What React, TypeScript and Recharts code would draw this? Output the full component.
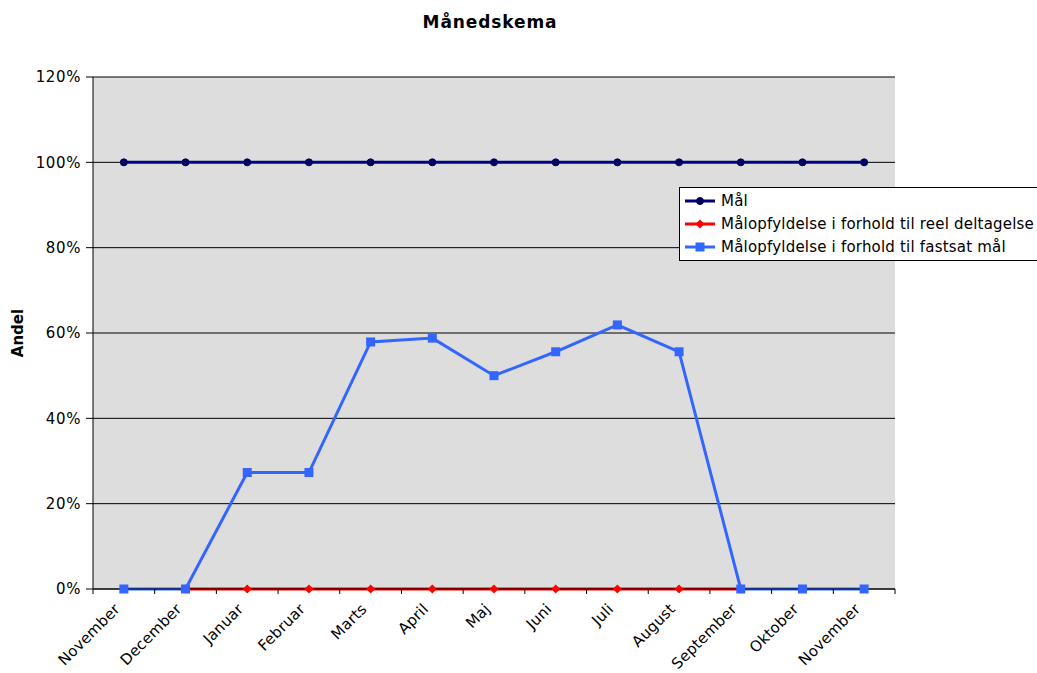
import React from "react";
import { LineChart, Line, XAxis, YAxis, CartesianGrid, Legend, Label } from "recharts";

const months = [
  "November", "December", "Januar", "Februar", "Marts", "April", "Maj",
  "Juni", "Juli", "August", "September", "Oktober", "November",
];
const maal = [100, 100, 100, 100, 100, 100, 100, 100, 100, 100, 100, 100, 100];
const reelDeltagelse = [null, 0, 0, 0, 0, 0, 0, 0, 0, 0, 0, null, null];
const fastsatMaal = [0, 0, 27.3, 27.3, 57.9, 58.8, 50, 55.6, 61.9, 55.6, 0, 0, 0];
const yTicks = [0, 20, 40, 60, 80, 100, 120];
const seriesOrder = ["maal", "reel", "fastsat"];

const data = months.map((month, i) => ({
  month,
  maal: maal[i],
  reel: reelDeltagelse[i],
  fastsat: fastsatMaal[i],
}));

const FONT = "'DejaVu Sans', Verdana, sans-serif";
const W = 1037;
const H = 673;
const margin = { top: 77, right: 142, bottom: 0, left: 0 };
const yAxisWidth = 93;
const plotW = W - margin.left - margin.right - yAxisWidth;
const halfBand = plotW / months.length / 2;

const NAVY = "#000080";
const RED = "#ff0000";
const BLUE = "#3366ff";

const CircleDot = (p: any) =>
  p.cx == null || p.cy == null ? null : (
    <circle cx={p.cx} cy={p.cy} r={3.5} fill="#00005e" stroke="#00005e" />
  );
const DiamondDot = (p: any) =>
  p.cx == null || p.cy == null ? null : (
    <path d={`M${p.cx} ${p.cy - 4.5}L${p.cx + 4.5} ${p.cy}L${p.cx} ${p.cy + 4.5}L${p.cx - 4.5} ${p.cy}Z`} fill={RED} />
  );
const SquareDot = (p: any) =>
  p.cx == null || p.cy == null ? null : (
    <rect x={p.cx - 4.5} y={p.cy - 4.5} width={9} height={9} fill={BLUE} />
  );

const shapes: Record<string, (p: any) => any> = {
  maal: CircleDot,
  reel: DiamondDot,
  fastsat: SquareDot,
};

// month label, plus tick marks between the categories (Excel style)
function MonthTick(props: any) {
  const { x, y, payload, index } = props;
  const tx = x - 3;
  const ty = y + 21;
  return (
    <g>
      <line x1={x - halfBand} x2={x - halfBand} y1={y} y2={y + 5} stroke="#000" />
      {index === months.length - 1 && (
        <line x1={x + halfBand} x2={x + halfBand} y1={y} y2={y + 5} stroke="#000" />
      )}
      <text
        x={tx}
        y={ty}
        textAnchor="end"
        transform={`rotate(-45 ${tx} ${ty})`}
        fontSize={15}
        letterSpacing={0.2}
        fill="#000"
        fontFamily={FONT}
      >
        {payload.value}
      </text>
    </g>
  );
}

function LegendBox(props: any) {
  const items = [...(props.payload || [])].sort(
    (a: any, b: any) => seriesOrder.indexOf(a.dataKey) - seriesOrder.indexOf(b.dataKey)
  );
  return (
    <div
      style={{
        background: "#fff",
        border: "1px solid #000",
        padding: "1px 6px 2px 4px",
        fontFamily: FONT,
        fontSize: 15,
        letterSpacing: 0.2,
        color: "#000",
      }}
    >
      {items.map((entry: any) => {
        const Shape = shapes[entry.dataKey];
        return (
          <div key={entry.dataKey} style={{ display: "flex", alignItems: "center", height: 23 }}>
            <svg width={32} height={12} style={{ marginRight: 5 }}>
              <line x1={1} x2={31} y1={6} y2={6} stroke={entry.color} strokeWidth={3} />
              <Shape cx={16} cy={6} />
            </svg>
            <span style={{ whiteSpace: "nowrap" }}>{entry.value}</span>
          </div>
        );
      })}
    </div>
  );
}

export default function App() {
  return (
    <div style={{ position: "absolute", left: 0, top: 0, width: W, height: H, background: "#fff", overflow: "hidden" }}>
      <div
        style={{
          position: "absolute",
          left: 0,
          width: 2 * 490,
          top: 12,
          textAlign: "center",
          fontFamily: FONT,
          fontWeight: "bold",
          fontSize: 17,
          letterSpacing: 0.9,
          color: "#000",
        }}
      >
        Månedskema
      </div>
      <LineChart width={W} height={H} data={data} margin={margin} style={{ fontFamily: FONT }}>
        <CartesianGrid vertical={false} stroke="#000" fill="#dddddd" fillOpacity={1} />
        <XAxis
          dataKey="month"
          padding={{ left: halfBand, right: halfBand }}
          height={84}
          tickSize={0}
          tickMargin={0}
          tickLine={false}
          axisLine={{ stroke: "#000" }}
          interval={0}
          tick={<MonthTick />}
        />
        <YAxis
          domain={[0, 120]}
          ticks={yTicks}
          width={yAxisWidth}
          tickFormatter={(v: number) => `${v}%`}
          tick={{ fontSize: 15, fill: "#000", fontFamily: FONT, letterSpacing: 0.6 }}
          tickSize={7}
          tickMargin={5}
          tickLine={{ stroke: "#000" }}
          axisLine={{ stroke: "#000" }}
          interval={0}
        >
          <Label
            content={() => (
              <text
                x={18}
                y={333}
                transform="rotate(-90 18 333)"
                textAnchor="middle"
                dominantBaseline="central"
                fontSize={15}
                fontWeight="bold"
                fontFamily={FONT}
                fill="#000"
              >
                Andel
              </text>
            )}
          />
        </YAxis>
        <YAxis
          yAxisId="right"
          orientation="right"
          width={0}
          tick={false}
          tickLine={false}
          axisLine={{ stroke: "#000" }}
        />
        <Legend
          layout="horizontal"
          verticalAlign="middle"
          align="center"
          wrapperStyle={{ left: 679, top: 187, width: 380 }}
          content={<LegendBox />}
        />
        <Line
          dataKey="maal"
          name="Mål"
          stroke={NAVY}
          strokeWidth={3}
          dot={<CircleDot />}
          isAnimationActive={false}
        />
        <Line
          dataKey="reel"
          name="Målopfyldelse i forhold til reel deltagelse"
          stroke={RED}
          strokeWidth={3}
          dot={<DiamondDot />}
          isAnimationActive={false}
        />
        <Line
          dataKey="fastsat"
          name="Målopfyldelse i forhold til fastsat mål"
          stroke={BLUE}
          strokeWidth={3}
          dot={<SquareDot />}
          isAnimationActive={false}
        />
      </LineChart>
    </div>
  );
}
